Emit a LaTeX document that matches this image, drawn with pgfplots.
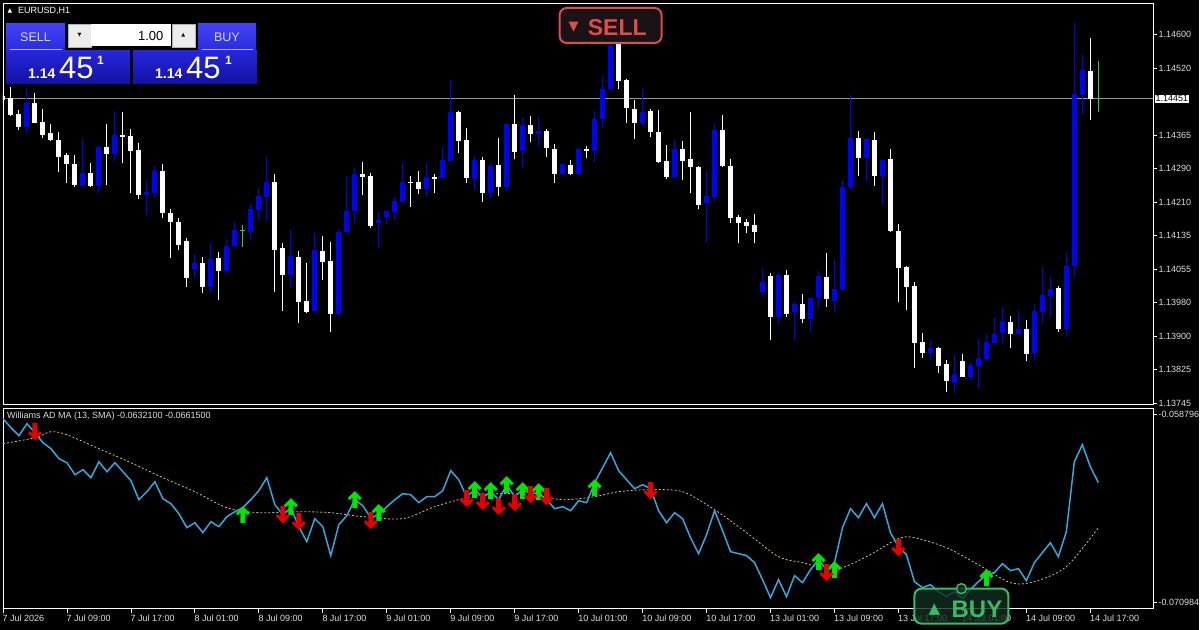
\documentclass[border=0pt]{standalone}
\usepackage{pgfplots}
\pgfplotsset{compat=1.18}
\usepackage{pgfplotstable}
\usepackage{fontspec}
\setmainfont{Liberation Sans}
\newfontfamily\symfont{DejaVu Sans}

\definecolor{bullblue}{RGB}{0,0,255}
\definecolor{adblue}{RGB}{48,168,224}
\definecolor{matan}{RGB}{222,184,135}
\definecolor{argreen}{RGB}{0,230,0}
\definecolor{arred}{RGB}{230,0,0}
\definecolor{txtgray}{RGB}{222,222,222}
\definecolor{pline}{RGB}{150,150,150}
\definecolor{dojigreen}{RGB}{60,200,60}
\definecolor{sellred}{RGB}{222,76,76}
\definecolor{selldark}{RGB}{26,18,20}
\definecolor{buygreen}{RGB}{56,186,104}
\definecolor{buydark}{RGB}{18,46,30}
\definecolor{btnblue}{RGB}{66,66,248}
\definecolor{btnblue2}{RGB}{44,44,222}
\definecolor{pxblue}{RGB}{38,38,220}
\definecolor{pxblue2}{RGB}{18,18,160}

% thick arrows of the indicator
\pgfdeclareplotmark{adup}{%
  \pgfpathmoveto{\pgfpoint{0pt}{8.5pt}}%
  \pgfpathlineto{\pgfpoint{7pt}{1.5pt}}%
  \pgfpathlineto{\pgfpoint{5pt}{-0.5pt}}%
  \pgfpathlineto{\pgfpoint{2.5pt}{2pt}}%
  \pgfpathlineto{\pgfpoint{2.5pt}{-8.5pt}}%
  \pgfpathlineto{\pgfpoint{-2.5pt}{-8.5pt}}%
  \pgfpathlineto{\pgfpoint{-2.5pt}{2pt}}%
  \pgfpathlineto{\pgfpoint{-5pt}{-0.5pt}}%
  \pgfpathlineto{\pgfpoint{-7pt}{1.5pt}}%
  \pgfpathclose\pgfusepathqfill}
\pgfdeclareplotmark{addown}{%
  \pgfpathmoveto{\pgfpoint{0pt}{-8.5pt}}%
  \pgfpathlineto{\pgfpoint{7pt}{-1.5pt}}%
  \pgfpathlineto{\pgfpoint{5pt}{0.5pt}}%
  \pgfpathlineto{\pgfpoint{2.5pt}{-2pt}}%
  \pgfpathlineto{\pgfpoint{2.5pt}{8.5pt}}%
  \pgfpathlineto{\pgfpoint{-2.5pt}{8.5pt}}%
  \pgfpathlineto{\pgfpoint{-2.5pt}{-2pt}}%
  \pgfpathlineto{\pgfpoint{-5pt}{0.5pt}}%
  \pgfpathlineto{\pgfpoint{-7pt}{-1.5pt}}%
  \pgfpathclose\pgfusepathqfill}

% EURUSD H1 candles, bar index, open high low close
\pgfplotstableread{
i O H L C
3 1.14385 1.14476 1.14371 1.14441
10 1.14249 1.14358 1.14249 1.14279
12 1.14249 1.14342 1.14233 1.14340
14 1.14323 1.14423 1.14307 1.14367
18 1.14228 1.14261 1.14182 1.14235
19 1.14233 1.14295 1.14221 1.14284
24 1.14057 1.14092 1.14036 1.14071
26 1.14016 1.14117 1.14002 1.14080
28 1.14053 1.14127 1.14048 1.14110
29 1.14110 1.14166 1.14108 1.14147
31 1.14143 1.14208 1.14124 1.14196
32 1.14194 1.14242 1.14173 1.14226
33 1.14224 1.14316 1.14168 1.14258
36 1.14043 1.14147 1.14013 1.14087
39 1.13960 1.14140 1.13955 1.14101
42 1.13953 1.14147 1.13951 1.14143
43 1.14143 1.14272 1.14140 1.14191
44 1.14191 1.14291 1.14164 1.14277
47 1.14164 1.14189 1.14106 1.14171
48 1.14177 1.14191 1.14161 1.14191
49 1.14189 1.14224 1.14171 1.14214
50 1.14212 1.14305 1.14212 1.14258
53 1.14242 1.14305 1.14226 1.14270
55 1.14268 1.14340 1.14265 1.14309
56 1.14307 1.14494 1.14307 1.14420
59 1.14265 1.14316 1.14238 1.14309
61 1.14233 1.14302 1.14221 1.14295
63 1.14247 1.14392 1.14238 1.14392
65 1.14330 1.14406 1.14291 1.14390
67 1.14369 1.14409 1.14342 1.14376
70 1.14277 1.14302 1.14275 1.14300
72 1.14277 1.14337 1.14275 1.14335
74 1.14330 1.14423 1.14305 1.14404
75 1.14404 1.14501 1.14383 1.14473
76 1.14473 1.14591 1.14471 1.14575
80 1.14395 1.14476 1.14390 1.14420
84 1.14270 1.14356 1.14265 1.14335
88 1.14210 1.14286 1.14120 1.14226
89 1.14224 1.14390 1.14214 1.14379
95 1.14004 1.14057 1.13997 1.14027
97 1.13946 1.14048 1.13932 1.14043
99 1.13958 1.13981 1.13893 1.13976
101 1.13942 1.13990 1.13909 1.13990
102 1.13990 1.14053 1.13969 1.14041
104 1.13983 1.14078 1.13958 1.14011
105 1.14011 1.14263 1.14006 1.14247
106 1.14247 1.14459 1.14242 1.14360
108 1.14314 1.14358 1.14258 1.14358
110 1.14272 1.14309 1.14208 1.14309
116 1.13863 1.13891 1.13847 1.13874
119 1.13793 1.13860 1.13770 1.13814
121 1.13807 1.13840 1.13800 1.13835
122 1.13833 1.13895 1.13782 1.13851
123 1.13849 1.13907 1.13847 1.13888
124 1.13886 1.13944 1.13886 1.13907
125 1.13909 1.13969 1.13886 1.13937
127 1.13907 1.13960 1.13907 1.13918
129 1.13863 1.13976 1.13844 1.13960
130 1.13958 1.14062 1.13932 1.13997
131 1.13995 1.14039 1.13946 1.14011
133 1.13918 1.14094 1.13900 1.14064
134 1.14064 1.14626 1.14039 1.14462
135 1.14459 1.14552 1.14416 1.14517
}\bull

\pgfplotstableread{
i O H L C
0 1.14457 1.14466 1.14441 1.14448
1 1.14453 1.14478 1.14411 1.14413
2 1.14416 1.14425 1.14379 1.14385
4 1.14441 1.14464 1.14395 1.14395
5 1.14397 1.14427 1.14360 1.14367
6 1.14371 1.14392 1.14353 1.14356
7 1.14356 1.14374 1.14281 1.14316
8 1.14321 1.14325 1.14256 1.14300
9 1.14300 1.14321 1.14247 1.14251
11 1.14279 1.14302 1.14247 1.14249
13 1.14340 1.14392 1.14251 1.14323
15 1.14367 1.14420 1.14302 1.14362
16 1.14365 1.14381 1.14233 1.14330
17 1.14332 1.14349 1.14219 1.14228
20 1.14284 1.14300 1.14175 1.14187
21 1.14187 1.14196 1.14082 1.14166
22 1.14166 1.14175 1.14101 1.14113
23 1.14122 1.14129 1.14016 1.14036
25 1.14071 1.14085 1.14002 1.14016
27 1.14082 1.14096 1.13986 1.14053
34 1.14258 1.14277 1.14004 1.14101
35 1.14106 1.14117 1.13960 1.14043
37 1.14085 1.14099 1.13932 1.13981
38 1.13983 1.14071 1.13955 1.13958
40 1.14099 1.14133 1.14032 1.14073
41 1.14076 1.14120 1.13911 1.13953
45 1.14277 1.14305 1.14228 1.14270
46 1.14272 1.14279 1.14152 1.14157
51 1.14258 1.14272 1.14201 1.14256
52 1.14258 1.14284 1.14231 1.14242
54 1.14270 1.14277 1.14233 1.14265
57 1.14420 1.14423 1.14325 1.14353
58 1.14356 1.14383 1.14256 1.14268
60 1.14309 1.14316 1.14212 1.14233
62 1.14298 1.14360 1.14226 1.14247
64 1.14392 1.14459 1.14311 1.14328
66 1.14390 1.14411 1.14351 1.14369
68 1.14376 1.14381 1.14316 1.14337
69 1.14335 1.14346 1.14256 1.14277
71 1.14298 1.14309 1.14275 1.14277
73 1.14335 1.14342 1.14314 1.14330
77 1.14580 1.14596 1.14473 1.14492
78 1.14494 1.14496 1.14395 1.14430
79 1.14427 1.14448 1.14358 1.14395
81 1.14423 1.14427 1.14362 1.14374
82 1.14374 1.14425 1.14302 1.14305
83 1.14307 1.14344 1.14265 1.14270
85 1.14335 1.14353 1.14263 1.14307
86 1.14311 1.14420 1.14233 1.14293
87 1.14293 1.14295 1.14196 1.14205
90 1.14379 1.14413 1.14293 1.14295
91 1.14295 1.14311 1.14164 1.14175
92 1.14177 1.14182 1.14117 1.14164
93 1.14166 1.14173 1.14140 1.14157
94 1.14159 1.14184 1.14117 1.14143
96 1.14041 1.14048 1.13893 1.13946
98 1.14043 1.14055 1.13946 1.13953
100 1.13976 1.13999 1.13932 1.13942
103 1.14039 1.14094 1.13969 1.13988
107 1.14360 1.14376 1.14272 1.14314
109 1.14356 1.14374 1.14249 1.14272
111 1.14311 1.14335 1.14143 1.14145
112 1.14145 1.14161 1.13981 1.14059
113 1.14062 1.14064 1.13962 1.14016
114 1.14018 1.14027 1.13828 1.13886
115 1.13888 1.13909 1.13851 1.13863
117 1.13874 1.13877 1.13816 1.13833
118 1.13837 1.13847 1.13773 1.13798
120 1.13844 1.13860 1.13807 1.13807
126 1.13935 1.13949 1.13874 1.13907
128 1.13918 1.13939 1.13844 1.13860
132 1.14013 1.14018 1.13911 1.13918
136 1.14515 1.14591 1.14402 1.14450
}\bear

\pgfplotstableread{
i O H L C
30 1.14147 1.14159 1.14108 1.14147
137 1.14451 1.14538 1.14420 1.14451
}\doji

% Williams AD
\pgfplotstableread{
i v
0 -0.059056
1 -0.059642
2 -0.060162
3 -0.059382
4 -0.059967
5 -0.060618
6 -0.061008
7 -0.061659
8 -0.061919
9 -0.062700
10 -0.062375
11 -0.062895
12 -0.061854
13 -0.062505
14 -0.061919
15 -0.062505
16 -0.063091
17 -0.064327
18 -0.063806
19 -0.063156
20 -0.064262
21 -0.064587
22 -0.065238
23 -0.066149
24 -0.065824
25 -0.066474
26 -0.065758
27 -0.066084
28 -0.065433
29 -0.065108
30 -0.064848
31 -0.064327
32 -0.063741
33 -0.062895
34 -0.064652
35 -0.065303
36 -0.064848
37 -0.066084
38 -0.067060
39 -0.065563
40 -0.066084
41 -0.067971
42 -0.065954
43 -0.065368
44 -0.064327
45 -0.064717
46 -0.065498
47 -0.065303
48 -0.064782
49 -0.064327
50 -0.063937
51 -0.064002
52 -0.064522
53 -0.064132
54 -0.064132
55 -0.063741
56 -0.062440
57 -0.063026
58 -0.064132
59 -0.063676
60 -0.064197
61 -0.063806
62 -0.064327
63 -0.063351
64 -0.064132
65 -0.063676
66 -0.063937
67 -0.063871
68 -0.064327
69 -0.064913
70 -0.064782
71 -0.065043
72 -0.064392
73 -0.064522
74 -0.063221
75 -0.062245
76 -0.061269
77 -0.062440
78 -0.063026
79 -0.063611
80 -0.063351
81 -0.063611
82 -0.065043
83 -0.065824
84 -0.065173
85 -0.065563
86 -0.066800
87 -0.067841
88 -0.066604
89 -0.065043
90 -0.066344
91 -0.067711
92 -0.067841
93 -0.067971
94 -0.068426
95 -0.069533
96 -0.070704
97 -0.069533
98 -0.070639
99 -0.069272
100 -0.069728
101 -0.068882
102 -0.068231
103 -0.068882
104 -0.068426
105 -0.066149
106 -0.064913
107 -0.065498
108 -0.064587
109 -0.065498
110 -0.064587
111 -0.066474
112 -0.067385
113 -0.067906
114 -0.069663
115 -0.070053
116 -0.069858
117 -0.070313
118 -0.070639
119 -0.070313
120 -0.070769
121 -0.070183
122 -0.069663
123 -0.069207
124 -0.069077
125 -0.068491
126 -0.068947
127 -0.068817
128 -0.069598
129 -0.068426
130 -0.067776
131 -0.067125
132 -0.068036
133 -0.066409
134 -0.061854
135 -0.060748
136 -0.062180
137 -0.063210
}\adtab

% MA(13) of AD
\pgfplotstableread{
i v
0 -0.060683
4 -0.060293
6 -0.059902
8 -0.060097
12 -0.061008
16 -0.061919
20 -0.062895
24 -0.063806
28 -0.064848
32 -0.065173
37 -0.065108
41 -0.065173
45 -0.065433
50 -0.065563
54 -0.064782
58 -0.064197
62 -0.063937
66 -0.064002
70 -0.064327
74 -0.064132
77 -0.063806
81 -0.063676
85 -0.063806
89 -0.064978
93 -0.066474
97 -0.068036
100 -0.068426
104 -0.068882
108 -0.068036
112 -0.066865
114 -0.066800
118 -0.067450
122 -0.068557
126 -0.069728
129 -0.069663
133 -0.068687
137 -0.066150
}\matab

\pgfplotstableread{
i v
30 -0.065303
36 -0.064782
44 -0.064327
47 -0.065173
59 -0.063676
61 -0.063741
63 -0.063351
65 -0.063741
67 -0.063806
74 -0.063546
102 -0.068361
104 -0.068882
123 -0.069402
}\uparr

\pgfplotstableread{
i v
4 -0.059902
35 -0.065303
37 -0.065758
46 -0.065693
58 -0.064262
60 -0.064457
62 -0.064782
64 -0.064522
66 -0.064002
68 -0.064132
81 -0.063741
103 -0.069077
112 -0.067450
}\dnarr

\pgfplotsset{
  mt4/.style={
    scale only axis, width=1151pt,
    xmin=0, xmax=143.875,
    axis line style={white, line width=0.8pt},
    tick style={white, line width=0.8pt},
    major tick length=4pt, tick align=outside,
    ticklabel style={font=\fontsize{9}{10}\selectfont, text=txtgray},
    scaled y ticks=false, scaled x ticks=false,
    clip mode=individual,
  },
}

\begin{document}
\begin{tikzpicture}
\fill[black] (0,0) rectangle (1200pt,630pt);

% price panel
\begin{axis}[mt4,
  at={(3pt,225pt)}, anchor=south west, height=402pt,
  ymin=1.137427, ymax=1.146724,
  xtick=\empty,
  ytick pos=right, yticklabel pos=right,
  ytick={1.14600,1.14520,1.14365,1.14290,1.14210,1.14135,1.14055,1.13980,1.13900,1.13825,1.13745},
  yticklabels={1.14600,1.14520,1.14365,1.14290,1.14210,1.14135,1.14055,1.13980,1.13900,1.13825,1.13745},
  yticklabel style={anchor=west, inner sep=1pt},
]
\addplot[pline, line width=0.8pt] coordinates {(0,1.14451) (143.875,1.14451)};
\addplot[bullblue, line width=1pt, quiver={u=0, v=\thisrow{H}-\thisrow{L}}] table[x=i, y=L] {\bull};
\addplot[bullblue, line width=5pt, quiver={u=0, v=\thisrow{C}-\thisrow{O}}] table[x=i, y=O] {\bull};
\addplot[white, line width=1pt, quiver={u=0, v=\thisrow{H}-\thisrow{L}}] table[x=i, y=L] {\bear};
\addplot[white, line width=5pt, quiver={u=0, v=\thisrow{C}-\thisrow{O}}] table[x=i, y=O] {\bear};
\addplot[dojigreen, line width=1pt, quiver={u=0, v=\thisrow{H}-\thisrow{L}}] table[x=i, y=L] {\doji};
\addplot[dojigreen, line width=1pt, quiver={u=0.625, v=0}] table[x expr=\thisrow{i}-0.3125, y=O] {\doji};
\node[fill=white, text=black, inner sep=1pt, anchor=west, xshift=1pt,
      font=\fontsize{9}{10}\selectfont] at (axis cs:143.875,1.14451) {1.14451};
\end{axis}

% indicator panel
\begin{axis}[mt4,
  at={(3pt,21pt)}, anchor=south west, height=200pt,
  ymin=-0.071420, ymax=-0.058406,
  ytick pos=right, yticklabel pos=right,
  ytick={-0.058796,-0.070984},
  yticklabels={-0.058796,-0.070984},
  yticklabel style={anchor=west, inner sep=1pt},
  xtick pos=left,
  xtick={0,8,...,136},
  xticklabels={7 Jul 2026,7 Jul 09:00,7 Jul 17:00,8 Jul 01:00,8 Jul 09:00,8 Jul 17:00,9 Jul 01:00,9 Jul 09:00,9 Jul 17:00,10 Jul 01:00,10 Jul 09:00,10 Jul 17:00,13 Jul 01:00,13 Jul 09:00,13 Jul 17:00,14 Jul 01:00,14 Jul 09:00,14 Jul 17:00},
  xticklabel style={anchor=north west, inner sep=0pt, xshift=-0.5pt, yshift=-2pt},
]
\addplot[matan, line width=0.8pt, dash pattern=on 2pt off 2pt, smooth] table[x=i, y=v] {\matab};
\addplot[adblue, line width=1.5pt] table[x=i, y=v] {\adtab};
\addplot[only marks, mark=adup, color=argreen] table[x=i, y=v] {\uparr};
\addplot[only marks, mark=addown, color=arred] table[x=i, y=v] {\dnarr};
\end{axis}

% overlays, in pixel coordinates from the top left corner
\begin{scope}[x=1pt, y=-1pt, shift={(0pt,630pt)}]
\node[text=white, font=\symfont\fontsize{6}{6}\selectfont, inner sep=0] at (10,10.5) {▲};
\node[anchor=west, text=white, font=\fontsize{9}{9}\selectfont, inner sep=0] at (18,11) {EURUSD,H1};
% one click trading panel
\shade[top color=btnblue, bottom color=btnblue2] (6,24) rectangle (65,50);
\shade[top color=btnblue, bottom color=btnblue2] (198,24) rectangle (256,50);
\draw[white!65!btnblue, line width=0.8pt] (10,49.5) -- (62,49.5) (202,49.5) -- (253,49.5);
\node[text=white!85!blue, font=\fontsize{12.5}{12.5}\selectfont] at (35.5,37) {SELL};
\node[text=white!85!blue, font=\fontsize{12.5}{12.5}\selectfont] at (227,37) {BUY};
\draw[fill=gray!15, draw=gray!60] (68,24) rectangle (91,47);
\draw[fill=gray!15, draw=gray!60] (172,24) rectangle (195,47);
\fill[white] (91.5,24.5) rectangle (171.5,46.5);
\node[font=\symfont\fontsize{5}{5}\selectfont] at (79.5,35.5) {▼};
\node[font=\symfont\fontsize{5}{5}\selectfont] at (183.5,35.5) {▲};
\node[anchor=east, text=black, font=\fontsize{13}{13}\selectfont] at (167,36) {1.00};
\shade[top color=pxblue, bottom color=pxblue2] (6,51) rectangle (130,84);
\shade[top color=pxblue, bottom color=pxblue2] (133,51) rectangle (257,84);
\node[anchor=base west, inner sep=0, text=white, font=\bfseries\fontsize{14}{14}\selectfont] at (28,79) {1.14};
\node[anchor=base west, inner sep=0, text=white, font=\fontsize{31}{31}\selectfont] at (59,79) {45};
\node[anchor=base west, inner sep=0, text=white, font=\bfseries\fontsize{12}{12}\selectfont] at (97,65) {1};
\node[anchor=base west, inner sep=0, text=white, font=\bfseries\fontsize{14}{14}\selectfont] at (155,79) {1.14};
\node[anchor=base west, inner sep=0, text=white, font=\fontsize{31}{31}\selectfont] at (186,79) {45};
\node[anchor=base west, inner sep=0, text=white, font=\bfseries\fontsize{12}{12}\selectfont] at (225,65) {1};
% indicator title
\node[anchor=west, inner sep=0, text=txtgray, font=\fontsize{9}{9}\selectfont] at (7,416.5)
  {Williams AD MA (13, SMA) -0.0632100 -0.0661500};
% signal labels
\draw[rounded corners=7pt, line width=2pt, draw=sellred, fill=selldark] (560,8) rectangle (662,43);
\node[text=sellred, font=\symfont\fontsize{13}{13}\selectfont, inner sep=0] at (574,27) {▼};
\node[anchor=west, text=sellred, font=\bfseries\fontsize{23}{23}\selectfont, inner sep=0] at (588,27.5) {SELL};
\draw[rounded corners=7pt, line width=2pt, draw=buygreen, fill=buydark, fill opacity=0.8] (915,589) rectangle (1009,624);
\draw[line width=1.5pt, draw=buygreen, fill=buydark, fill opacity=0.8] (962,589) circle (5pt);
\node[text=buygreen, font=\symfont\fontsize{15}{15}\selectfont, inner sep=0] at (935,610) {▲};
\node[anchor=west, text=buygreen, font=\bfseries\fontsize{24}{24}\selectfont, inner sep=0] at (952,609.5) {BUY};
\end{scope}
\end{tikzpicture}
\end{document}
